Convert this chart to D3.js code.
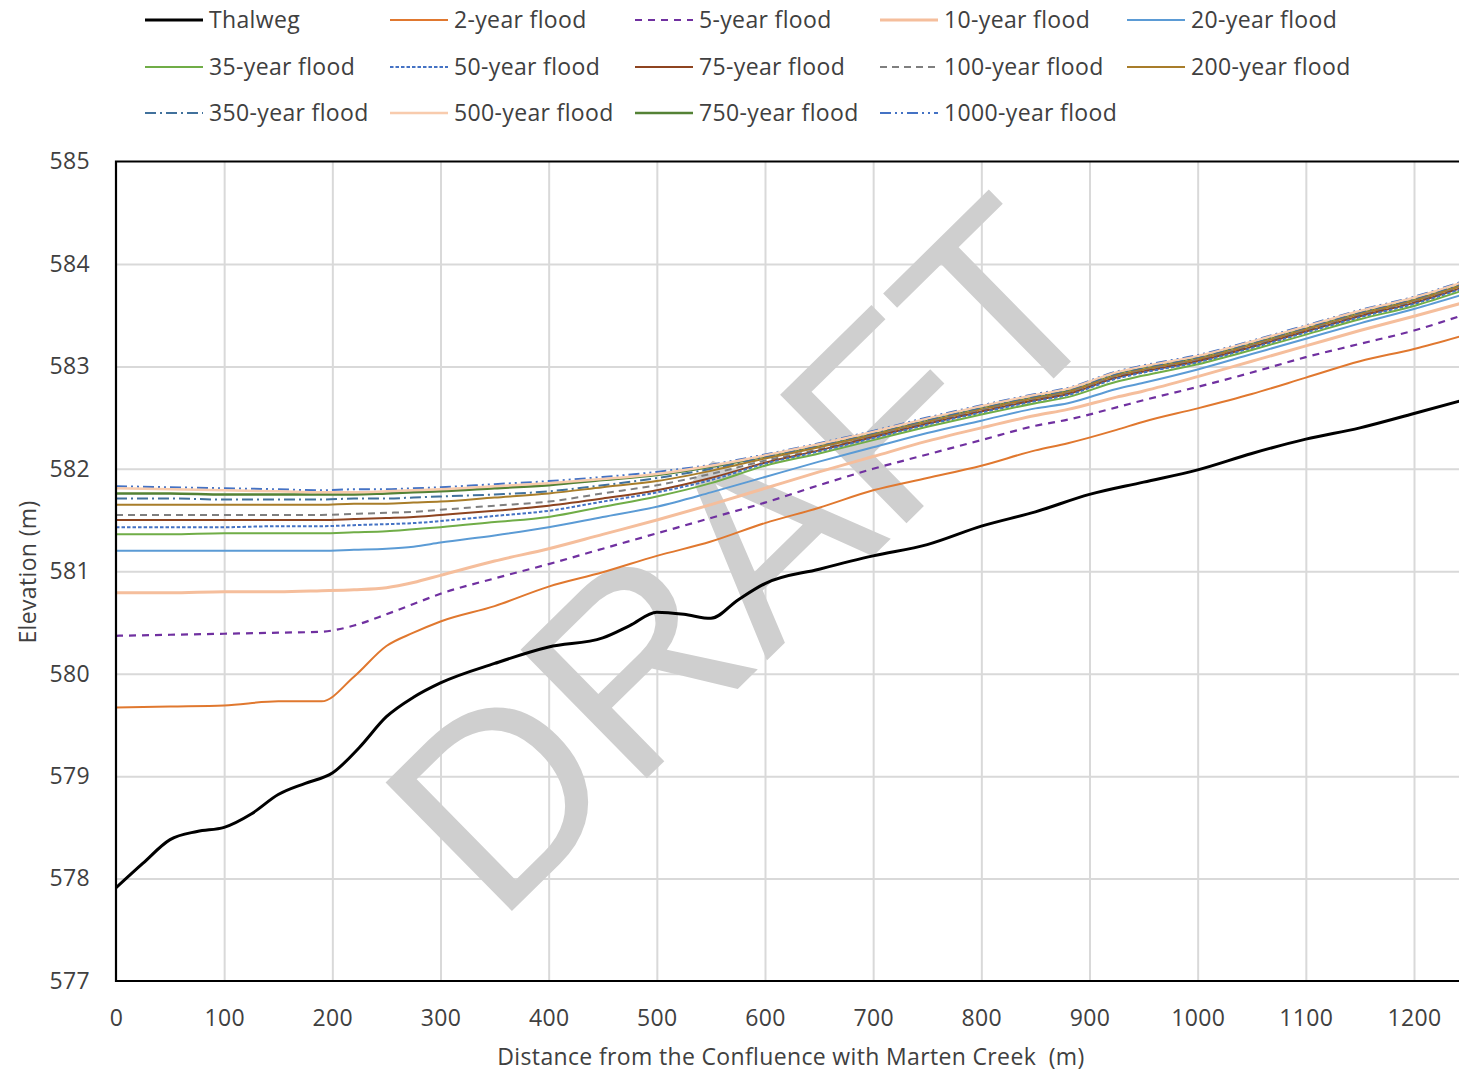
<!DOCTYPE html>
<html>
<head>
<meta charset="utf-8">
<script src="https://d3js.org/d3.v7.min.js"></script>
<style>
body { margin: 0; background: #fff; }
svg text { font-family: "Open Sans", sans-serif; fill: #404040; letter-spacing: 0.35px; }
</style>
</head>
<body>
<div id="chart"></div>
<script>
// distances (m) used by the flood profiles
var distance = [0, 50, 100, 150, 190, 220, 250, 275, 300, 350, 400, 450, 500, 550, 600,
                650, 700, 750, 800, 850, 880, 925, 950, 1000, 1050, 1100, 1150, 1200, 1245];

// thalweg has its own, finer sampling
var thalwegDistance = [0, 25, 50, 75, 100, 125, 150, 175, 200, 225, 250, 275, 300, 350, 400, 450,
                       475, 500, 525, 550, 575, 600, 650, 700, 750, 800, 850, 900, 950, 1000,
                       1050, 1100, 1150, 1200, 1245];
var thalweg = [577.91, 578.15, 578.38, 578.46, 578.50, 578.63, 578.82, 578.93, 579.03, 579.28,
               579.58, 579.77, 579.91, 580.10, 580.26, 580.35, 580.47, 580.60, 580.58, 580.54,
               580.72, 580.88, 581.02, 581.15, 581.26, 581.44, 581.58, 581.75, 581.87, 581.99,
               582.15, 582.29, 582.40, 582.54, 582.67];

var flood2 = [579.67, 579.68, 579.69, 579.73, 579.73, 579.97, 580.27, 580.40, 580.51, 580.66,
              580.85, 580.99, 581.15, 581.29, 581.47, 581.62, 581.79, 581.91, 582.03, 582.18,
              582.25, 582.38, 582.46, 582.59, 582.73, 582.89, 583.05, 583.17, 583.30];
var flood5 = [580.37, 580.38, 580.39, 580.40, 580.41, 580.47, 580.58, 580.68, 580.78, 580.93,
              581.07, 581.22, 581.37, 581.52, 581.67, 581.84, 582.00, 582.14, 582.28, 582.42,
              582.48, 582.60, 582.67, 582.80, 582.94, 583.09, 583.22, 583.35, 583.50];
var flood10 = [580.79, 580.79, 580.80, 580.80, 580.81, 580.82, 580.84, 580.89, 580.96, 581.10,
               581.22, 581.36, 581.50, 581.65, 581.81, 581.97, 582.12, 582.27, 582.40, 582.52,
               582.58, 582.70, 582.76, 582.90, 583.05, 583.20, 583.35, 583.49, 583.62];
var flood20 = [581.20, 581.20, 581.20, 581.20, 581.20, 581.21, 581.22, 581.24, 581.28, 581.35,
               581.43, 581.53, 581.63, 581.77, 581.92, 582.07, 582.21, 582.35, 582.47, 582.59,
               582.64, 582.78, 582.84, 582.97, 583.12, 583.27, 583.42, 583.56, 583.70];
var flood35 = [581.36, 581.36, 581.37, 581.37, 581.37, 581.38, 581.39, 581.41, 581.43, 581.48,
               581.53, 581.63, 581.73, 581.86, 582.03, 582.15, 582.28, 582.41, 582.53, 582.64,
               582.70, 582.85, 582.91, 583.02, 583.16, 583.31, 583.46, 583.59, 583.74];
var flood50 = [581.43, 581.43, 581.43, 581.44, 581.44, 581.45, 581.46, 581.47, 581.49, 581.54,
               581.59, 581.68, 581.77, 581.89, 582.05, 582.17, 582.30, 582.43, 582.55, 582.66,
               582.72, 582.88, 582.94, 583.04, 583.18, 583.33, 583.48, 583.61, 583.76];
var flood75 = [581.50, 581.50, 581.50, 581.50, 581.50, 581.51, 581.52, 581.53, 581.55, 581.59,
               581.64, 581.71, 581.79, 581.91, 582.06, 582.18, 582.31, 582.44, 582.56, 582.67,
               582.73, 582.89, 582.95, 583.05, 583.19, 583.34, 583.49, 583.62, 583.77];
var flood100 = [581.55, 581.55, 581.55, 581.55, 581.55, 581.56, 581.57, 581.58, 581.60, 581.64,
                581.68, 581.76, 581.84, 581.95, 582.08, 582.19, 582.32, 582.45, 582.57, 582.68,
                582.74, 582.90, 582.96, 583.06, 583.20, 583.35, 583.50, 583.63, 583.78];
var flood200 = [581.65, 581.65, 581.65, 581.65, 581.65, 581.66, 581.66, 581.67, 581.68, 581.72,
                581.76, 581.82, 581.88, 581.98, 582.10, 582.21, 582.33, 582.46, 582.58, 582.69,
                582.75, 582.91, 582.97, 583.07, 583.21, 583.36, 583.51, 583.64, 583.79];
var flood350 = [581.71, 581.71, 581.70, 581.70, 581.70, 581.71, 581.71, 581.72, 581.73, 581.75,
                581.78, 581.84, 581.91, 582.00, 582.11, 582.22, 582.34, 582.47, 582.59, 582.70,
                582.76, 582.92, 582.98, 583.08, 583.22, 583.37, 583.52, 583.65, 583.80];
var flood500 = [581.81, 581.80, 581.79, 581.78, 581.77, 581.77, 581.78, 581.79, 581.80, 581.83,
                581.86, 581.90, 581.95, 582.03, 582.13, 582.24, 582.36, 582.49, 582.61, 582.72,
                582.78, 582.94, 583.00, 583.10, 583.24, 583.39, 583.54, 583.67, 583.82];
var flood750 = [581.76, 581.76, 581.75, 581.75, 581.75, 581.75, 581.76, 581.77, 581.78, 581.81,
                581.84, 581.89, 581.94, 582.02, 582.12, 582.23, 582.35, 582.48, 582.60, 582.71,
                582.77, 582.93, 582.99, 583.09, 583.23, 583.38, 583.53, 583.66, 583.81];
var flood1000 = [581.83, 581.82, 581.81, 581.80, 581.79, 581.80, 581.80, 581.81, 581.82, 581.85,
                 581.88, 581.92, 581.97, 582.04, 582.14, 582.25, 582.37, 582.50, 582.62, 582.73,
                 582.79, 582.95, 583.01, 583.11, 583.25, 583.40, 583.55, 583.68, 583.83];

var xTicks = [0, 100, 200, 300, 400, 500, 600, 700, 800, 900, 1000, 1100, 1200];
var yTicks = [577, 578, 579, 580, 581, 582, 583, 584, 585];

// series in legend order (row by row)
var series = [
    {name: "Thalweg",         x: thalwegDistance, y: thalweg,   color: "#000000", width: 3,   dash: null},
    {name: "2-year flood",    x: distance, y: flood2,    color: "#E0782F", width: 2,   dash: null},
    {name: "5-year flood",    x: distance, y: flood5,    color: "#7030A0", width: 2.2, dash: "7,6"},
    {name: "10-year flood",   x: distance, y: flood10,   color: "#F5BE9C", width: 3,   dash: null},
    {name: "20-year flood",   x: distance, y: flood20,   color: "#5B9BD5", width: 2,   dash: null},
    {name: "35-year flood",   x: distance, y: flood35,   color: "#70AD47", width: 2,   dash: null},
    {name: "50-year flood",   x: distance, y: flood50,   color: "#4472C4", width: 2,   dash: "3.5,2"},
    {name: "75-year flood",   x: distance, y: flood75,   color: "#8E4420", width: 2,   dash: null},
    {name: "100-year flood",  x: distance, y: flood100,  color: "#7F7F7F", width: 2,   dash: "7,5"},
    {name: "200-year flood",  x: distance, y: flood200,  color: "#A87D2A", width: 2,   dash: null},
    {name: "350-year flood",  x: distance, y: flood350,  color: "#41719C", width: 2,   dash: "11,4,2,4"},
    {name: "500-year flood",  x: distance, y: flood500,  color: "#F8CBAD", width: 2.5, dash: null},
    {name: "750-year flood",  x: distance, y: flood750,  color: "#548235", width: 2.5, dash: null},
    {name: "1000-year flood", x: distance, y: flood1000, color: "#4472C4", width: 2,   dash: "11,4,2,4,2,4"}
];

var width = 1459, height = 1073;
var plot = {left: 116, top: 161.5, bottom: 981};

var svg = d3.select("#chart").append("svg")
    .attr("width", width)
    .attr("height", height);

var x = d3.scaleLinear().domain([0, 1200]).range([plot.left, 1414]);
var y = d3.scaleLinear().domain([577, 585]).range([plot.bottom, plot.top]);
var xRight = x(1260);

// grid lines
svg.append("g")
    .attr("transform", "translate(0," + plot.bottom + ")")
    .call(d3.axisBottom(x).tickValues(xTicks.slice(1)).tickSize(-(plot.bottom - plot.top)).tickFormat(""))
    .call(g => g.select(".domain").remove())
    .call(g => g.selectAll("line").attr("stroke", "#d9d9d9").attr("stroke-width", 2));
svg.append("g")
    .attr("transform", "translate(" + plot.left + ",0)")
    .call(d3.axisLeft(y).tickValues(yTicks.slice(1, -1)).tickSize(-(xRight - plot.left)).tickFormat(""))
    .call(g => g.select(".domain").remove())
    .call(g => g.selectAll("line").attr("stroke", "#d9d9d9").attr("stroke-width", 2));

// watermark
svg.append("text")
    .attr("transform", "translate(808,620) rotate(-44.5)")
    .attr("text-anchor", "middle")
    .style("font-family", "'Liberation Sans', Arial, sans-serif")
    .style("font-size", "262px")
    .style("letter-spacing", "0px")
    .style("fill", "#cfcfcf")
    .text("DRAFT");

// lines
svg.append("clipPath").attr("id", "plotclip")
    .append("rect")
    .attr("x", plot.left).attr("y", plot.top - 5)
    .attr("width", xRight - plot.left).attr("height", plot.bottom - plot.top + 5);

var line = d3.line()
    .x(d => x(d[0]))
    .y(d => y(d[1]))
    .curve(d3.curveMonotoneX);

var lines = svg.append("g").attr("clip-path", "url(#plotclip)");
series.slice().reverse().forEach(function(s) {
    lines.append("path")
        .datum(s.x.map((d, i) => [d, s.y[i]]))
        .attr("fill", "none")
        .attr("stroke", s.color)
        .attr("stroke-width", s.width)
        .attr("stroke-dasharray", s.dash)
        .attr("d", line);
});

// plot border
svg.append("path")
    .attr("d", "M" + xRight + "," + plot.top + "H" + plot.left + "V" + plot.bottom + "H" + xRight)
    .attr("fill", "none")
    .attr("stroke", "#000")
    .attr("stroke-width", 2.2);

// axes labels
svg.append("g")
    .attr("transform", "translate(0," + plot.bottom + ")")
    .call(d3.axisBottom(x).tickValues(xTicks).tickSize(0).tickPadding(29).tickFormat(d3.format("d")))
    .call(g => g.select(".domain").remove())
    .call(g => g.selectAll("text").style("font-size", "23px").attr("fill", "#404040")
        .style("font-family", "'Open Sans', sans-serif"));
svg.append("g")
    .attr("transform", "translate(" + plot.left + ",0)")
    .call(d3.axisLeft(y).tickValues(yTicks).tickSize(0).tickPadding(26))
    .call(g => g.select(".domain").remove())
    .call(g => g.selectAll("text").style("font-size", "23px").attr("fill", "#404040")
        .style("font-family", "'Open Sans', sans-serif"));

svg.append("text")
    .attr("x", 791).attr("y", 1057).attr("dy", "0.35em")
    .attr("text-anchor", "middle")
    .style("font-size", "23px")
    .style("white-space", "pre")
    .text("Distance from the Confluence with Marten Creek  (m)");

svg.append("text")
    .attr("transform", "translate(28,572) rotate(-90)")
    .attr("dy", "0.35em")
    .attr("text-anchor", "middle")
    .style("font-size", "23px")
    .text("Elevation (m)");

// legend
var legendX = [145, 390, 635, 880, 1127];
var legendY = [20, 67, 113];
var legend = svg.append("g");
series.forEach(function(s, i) {
    var lx = legendX[i % 5], ly = legendY[Math.floor(i / 5)];
    var item = legend.append("g").attr("transform", "translate(" + lx + "," + ly + ")");
    item.append("line")
        .attr("x1", 0).attr("x2", 58)
        .attr("stroke", s.color)
        .attr("stroke-width", s.width)
        .attr("stroke-dasharray", s.dash);
    item.append("text")
        .attr("x", 64).attr("dy", "0.35em")
        .style("font-size", "23px")
        .text(s.name);
});
</script>
</body>
</html>
